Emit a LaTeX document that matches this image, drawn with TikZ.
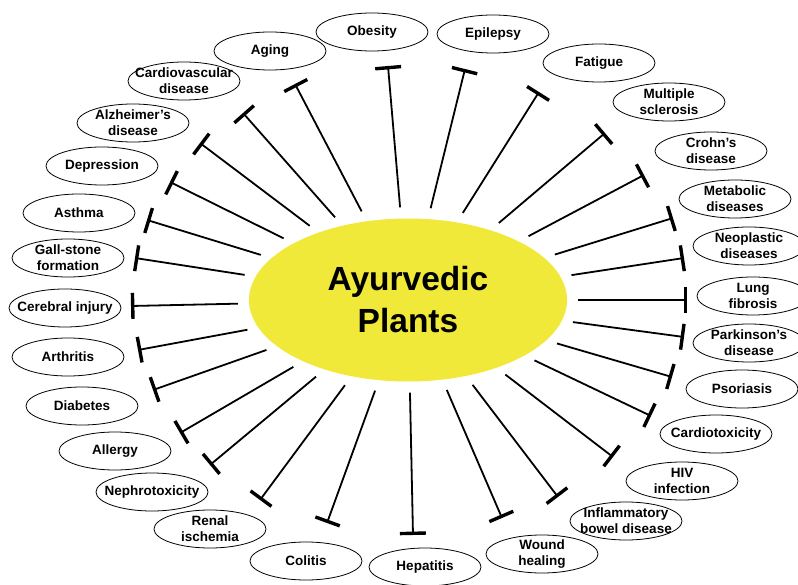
\documentclass[tikz,border=0pt]{standalone}
\usepackage{fontspec}
\setmainfont{Liberation Sans}
\usetikzlibrary{shapes.geometric,arrows.meta}
\definecolor{plantyellow}{RGB}{240,233,58}

\begin{document}
\begin{tikzpicture}[x=1pt,y=-1pt,
  ill/.style={ellipse,draw,line width=0.8pt,fill=white,minimum width=112pt,minimum height=38pt,inner sep=-12pt,align=center,font=\fontsize{13.5}{16}\selectfont\bfseries},
  inhibit/.style={line width=1.8pt,shorten <=11pt,-{Bar[width=26pt,line width=3.4pt]}}]
\useasboundingbox (0,0) rectangle (798,585);

\node[ellipse,fill=plantyellow,minimum width=318pt,minimum height=163pt,inner sep=0pt,align=center,font=\fontsize{33.5}{42}\selectfont\bfseries] (plants) at (408,300) {Ayurvedic\\Plants};

% Bar ends of the inhibition lines
\foreach \pos/\name in {{(388,66)/tobe}, {(465,69)/tepi}, {(539,92)/tfat}, {(605,133)/tms}, {(644,175)/tcro}, {(673,218)/tmet}, {(684,258)/tneo}, {(687,300)/tlun}, {(684,337)/tpar}, {(672,377)/tpso}, {(651,416)/tcar}, {(613,457)/thiv}, {(558,497)/tibd}, {(502,518)/twou}, {(413,535)/thep}, {(327,523)/tcol}, {(260,500)/tren}, {(210,465)/tnep}, {(180,433)/tall}, {(153,390)/tdia}, {(138,350)/tart}, {(131,306)/tcer}, {(135,258)/tgal}, {(147,220)/tast}, {(170,182)/tdep}, {(200,143)/talz}, {(243,113)/tcvd}, {(295,84)/tagi}}
\node[coordinate] (\name) at \pos {};

% Inhibition lines
\foreach \dest in {tobe, tepi, tfat, tms, tcro, tmet, tneo, tlun, tpar, tpso, tcar, thiv, tibd, twou, thep, tcol, tren, tnep, tall, tdia, tart, tcer, tgal, tast, tdep, talz, tcvd, tagi}
\path[draw,inhibit] (plants) -- (\dest);

% Diseases
\foreach \pos/\name/\disp in {{(372,32)/obe/Obesity}, {(493,34)/epi/Epilepsy}, {(599,63)/fat/Fatigue}, {(669,102)/ms/Multiple\\sclerosis}, {(711,151)/cro/Crohn's\\disease}, {(735,199)/met/Metabolic\\diseases}, {(749,246)/neo/Neoplastic\\diseases}, {(753,296)/lun/Lung\\fibrosis}, {(749,343)/par/Parkinson's\\disease}, {(742,389)/pso/Psoriasis}, {(716,434)/car/Cardiotoxicity}, {(682,481)/hiv/HIV\\infection}, {(626,521)/ibd/Inflammatory\\bowel disease}, {(542,554)/wou/Wound\\healing}, {(425,567)/hep/Hepatitis}, {(306,561)/col/Colitis}, {(210,529)/ren/Renal\\ischemia}, {(152,492)/nep/Nephrotoxicity}, {(115,451)/all/Allergy}, {(82,406)/dia/Diabetes}, {(68,357)/art/Arthritis}, {(65,308)/cer/Cerebral injury}, {(68,258)/gal/Gall-stone\\formation}, {(79,213)/ast/Asthma}, {(102,166)/dep/Depression}, {(133,123)/alz/Alzheimer's\\disease}, {(184,81)/cvd/Cardiovascular\\disease}, {(270,51)/agi/Aging}}
\node[ill] (\name) at \pos {\disp};

\end{tikzpicture}
\end{document}
